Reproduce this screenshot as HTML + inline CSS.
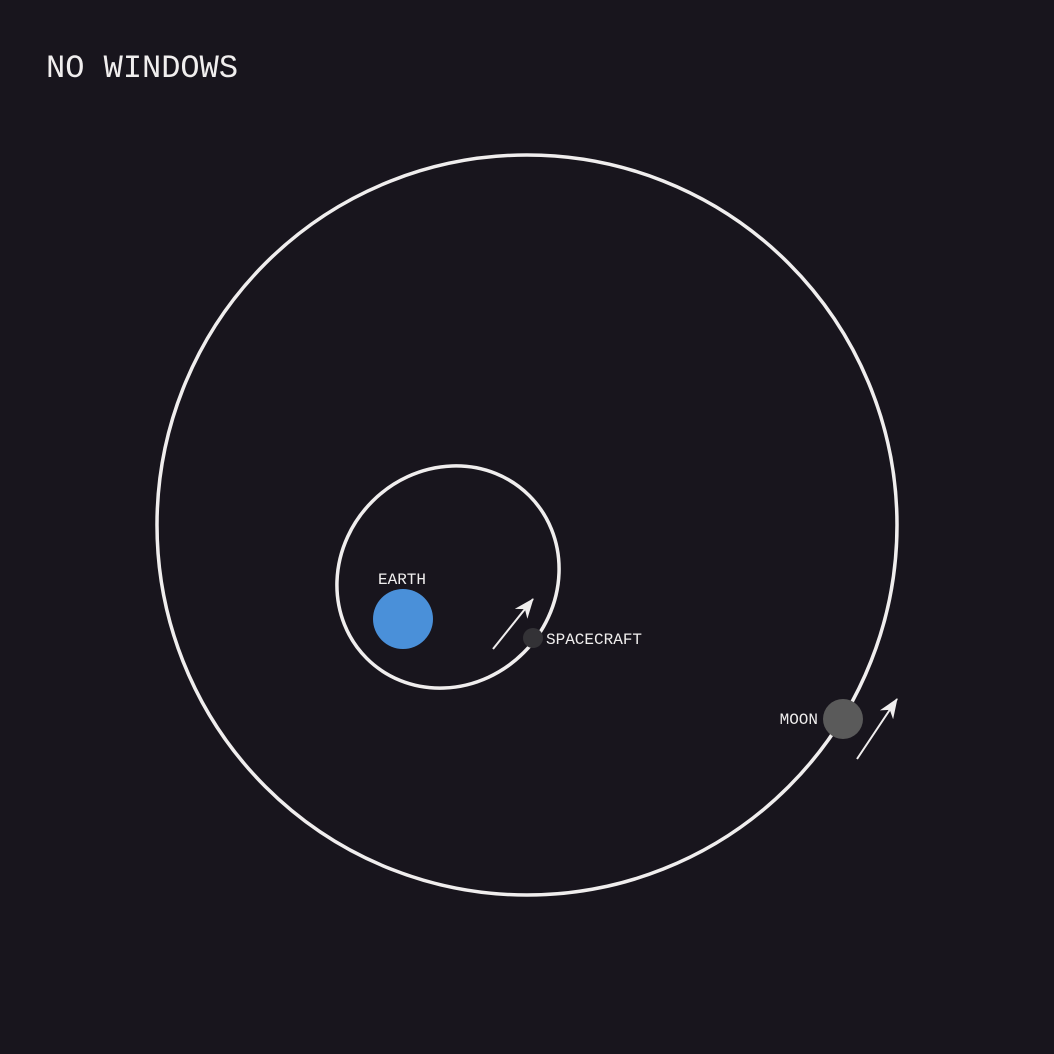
<!DOCTYPE html>
<html><head><meta charset="utf-8"><style>
html,body{margin:0;padding:0;background:#18151d;}
svg{display:block}
text{font-family:"Liberation Mono","DejaVu Sans Mono",monospace;fill:#f0eeee}
</style></head><body>
<svg width="1054" height="1054" viewBox="0 0 1054 1054">
<defs><marker id="ah" viewBox="0 0 20 16" refX="19" refY="8" markerWidth="20" markerHeight="16" markerUnits="userSpaceOnUse" orient="auto"><path d="M0,0 L20,8 L0,16 L6,8 z" fill="#f0eeee"/></marker></defs>
<rect width="1054" height="1054" fill="#18151d"/>
<text x="46" y="77" font-size="32">NO WINDOWS</text>
<circle cx="527" cy="525" r="370" fill="none" stroke="#f0eeee" stroke-width="3.5"/>
<ellipse cx="448" cy="577" rx="115" ry="107" transform="rotate(-45 448 577)" fill="none" stroke="#f0eeee" stroke-width="3.5"/>
<circle cx="403" cy="619" r="30" fill="#4a90d9"/>
<text x="402" y="584" font-size="16" text-anchor="middle">EARTH</text>
<line x1="493" y1="649" x2="533" y2="599" stroke="#f0eeee" stroke-width="2" marker-end="url(#ah)"/>
<circle cx="533" cy="638" r="10" fill="#333236"/>
<text x="546" y="644" font-size="16">SPACECRAFT</text>
<circle cx="843" cy="719" r="20" fill="#5a5a5a"/>
<text x="818" y="724" font-size="16" text-anchor="end">MOON</text>
<line x1="857" y1="759" x2="897" y2="699" stroke="#f0eeee" stroke-width="2" marker-end="url(#ah)"/>
</svg>
</body></html>
